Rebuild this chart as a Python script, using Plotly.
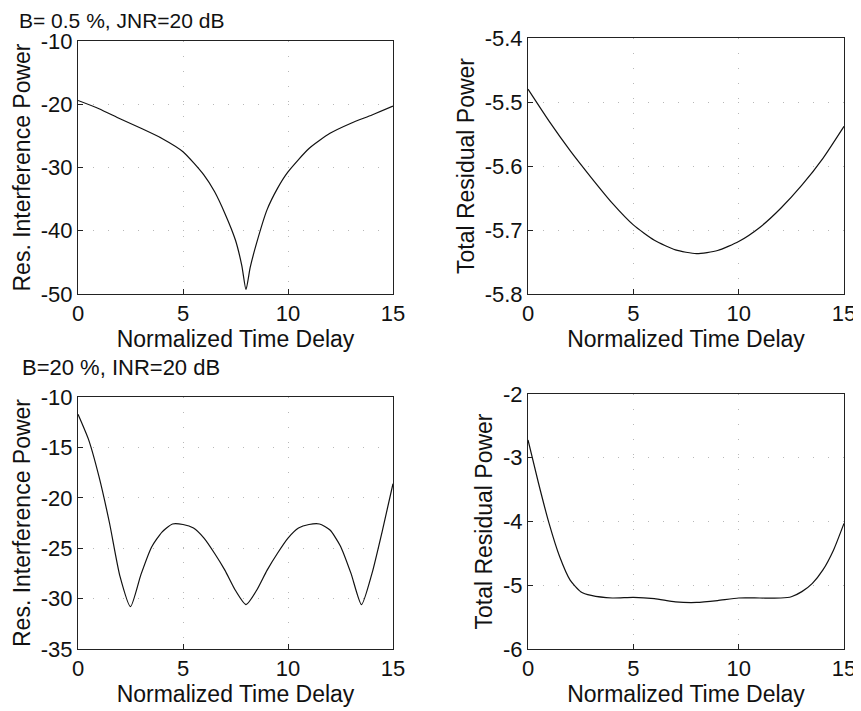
import plotly.graph_objects as go

# ---- data ----
x_a = [0, 1, 2, 3, 4, 5, 6, 6.5, 7, 7.5, 7.8, 8.0, 8.2, 8.5, 9, 9.5, 10, 11, 12, 13, 14, 15]
y_a = [-19.4, -20.7, -22.3, -23.8, -25.4, -27.5, -31.2, -33.8, -37.3, -41.5, -45.5, -49.3, -45.8,
       -42.0, -36.7, -33.3, -30.7, -27.0, -24.6, -23.0, -21.7, -20.3]

x_b = [0, 1, 2, 3, 4, 5, 6, 7, 8, 9, 10, 11, 12, 13, 14, 15]
y_b = [-5.480, -5.530, -5.576, -5.618, -5.658, -5.692, -5.716, -5.731, -5.737, -5.732,
       -5.718, -5.696, -5.666, -5.630, -5.588, -5.538]

x_c = [0, 0.5, 1.0, 1.5, 2.0, 2.5, 3.0, 3.5, 4, 4.5, 5, 5.5, 6, 6.5, 7, 7.5, 8,
       8.5, 9, 9.5, 10, 10.5, 11, 11.5, 12, 12.5, 13, 13.5, 14, 14.5, 15]
y_c = [-11.7, -14.2, -17.9, -22.5, -27.8, -30.8, -27.6, -24.9, -23.4, -22.6, -22.65,
       -23.0, -24.0, -25.5, -27.2, -29.2, -30.6, -29.2, -27.2, -25.5, -24.0, -23.0, -22.65,
       -22.6, -23.2, -24.8, -27.5, -30.6, -27.5, -23.2, -18.6]

x_d = [0, 0.5, 1, 1.5, 2, 2.5, 3, 4, 5, 6, 7, 8, 9, 10, 11, 12, 12.5, 13, 13.5, 14, 14.5, 15]
y_d = [-2.72, -3.40, -4.03, -4.55, -4.92, -5.10, -5.16, -5.20, -5.19, -5.21, -5.26, -5.27,
       -5.24, -5.20, -5.20, -5.20, -5.18, -5.10, -4.97, -4.76, -4.45, -4.03]

x_ticks = [0, 5, 10, 15]
yticks_a = [-50, -40, -30, -20, -10]
yticks_b = [-5.8, -5.7, -5.6, -5.5, -5.4]
yticks_c = [-35, -30, -25, -20, -15, -10]
yticks_d = [-6, -5, -4, -3, -2]
ylabels_a = ["-50", "-40", "-30", "-20", "-10"]
ylabels_b = ["-5.8", "-5.7", "-5.6", "-5.5", "-5.4"]
ylabels_c = ["-35", "-30", "-25", "-20", "-15", "-10"]
ylabels_d = ["-6", "-5", "-4", "-3", "-2"]

titles = ["B= 0.5 %, JNR=20 dB", "B=20 %, INR=20 dB"]
ylab_left = "Res. Interference Power"
ylab_right = "Total Residual Power"
xlab = "Normalized Time Delay"

# page body has an 8px default margin: the figure starts at (8, 8) in the window
OFF = 8
W, H = 861 - OFF, 711 - OFF
FONT = "Liberation Sans, Arial, Helvetica, sans-serif"

fig = go.Figure()
series = [(x_a, y_a), (x_b, y_b), (x_c, y_c), (x_d, y_d)]
for i, (xs, ys) in enumerate(series):
    suf = "" if i == 0 else str(i + 1)
    fig.add_trace(go.Scatter(x=xs, y=ys, mode="lines", xaxis="x" + suf, yaxis="y" + suf,
                             line=dict(color="#111", width=1.2, shape="spline", smoothing=0.6),
                             showlegend=False, hoverinfo="skip"))

# panel pixel boxes in window coordinates (left, right, top, bottom)
boxes = [(78, 393, 41, 294), (528, 844, 38, 294), (78, 393, 397, 649), (528, 844, 394, 649)]
yranges = [(-50, -10), (-5.8, -5.4), (-35, -10), (-6, -2)]
yticks = [yticks_a, yticks_b, yticks_c, yticks_d]
ylabels = [ylabels_a, ylabels_b, ylabels_c, ylabels_d]
ylabs = [ylab_left, ylab_right, ylab_left, ylab_right]

axis_common = dict(showline=True, mirror=True, linecolor="#222", linewidth=1,
                   ticks="inside", ticklen=5, tickcolor="#222", automargin=False,
                   showgrid=True, gridcolor="#b8b8b8", gridwidth=1, griddash="1px,14px",
                   zeroline=False, tickfont=dict(family=FONT, size=22, color="#111"))

layout = dict(width=W, height=H, paper_bgcolor="white", plot_bgcolor="white",
              margin=dict(l=0, r=0, t=0, b=0), font=dict(family=FONT, color="#111"))
for i, (l, r, t, b) in enumerate(boxes):
    suf = "" if i == 0 else str(i + 1)
    l, r, t, b = l - OFF, r - OFF, t - OFF, b - OFF
    xa = dict(axis_common, domain=[l / W, r / W], range=[0, 15], tickvals=x_ticks,
              ticktext=[str(v) for v in x_ticks], anchor="y" + suf,
              title=dict(text=xlab, font=dict(family=FONT, size=23, color="#111"), standoff=3))
    ya = dict(axis_common, domain=[1 - b / H, 1 - t / H], range=list(yranges[i]),
              tickvals=yticks[i], ticktext=ylabels[i], anchor="x" + suf,
              title=dict(text=ylabs[i], font=dict(family=FONT, size=23, color="#111"), standoff=3))
    layout["xaxis" + suf] = xa
    layout["yaxis" + suf] = ya

fig.update_layout(**layout)

fig.add_annotation(text=titles[0], x=(18 - OFF) / W, y=1.0, xref="paper",
                   yref="paper", xanchor="left", yanchor="top", showarrow=False,
                   font=dict(family=FONT, size=21, color="#111"), borderpad=0)
fig.add_annotation(text=titles[1], x=(20 - OFF) / W, y=1 - (367 - OFF) / H, xref="paper",
                   yref="paper", xanchor="left", yanchor="middle", showarrow=False,
                   font=dict(family=FONT, size=22, color="#111"))

fig.write_html("out.html")
